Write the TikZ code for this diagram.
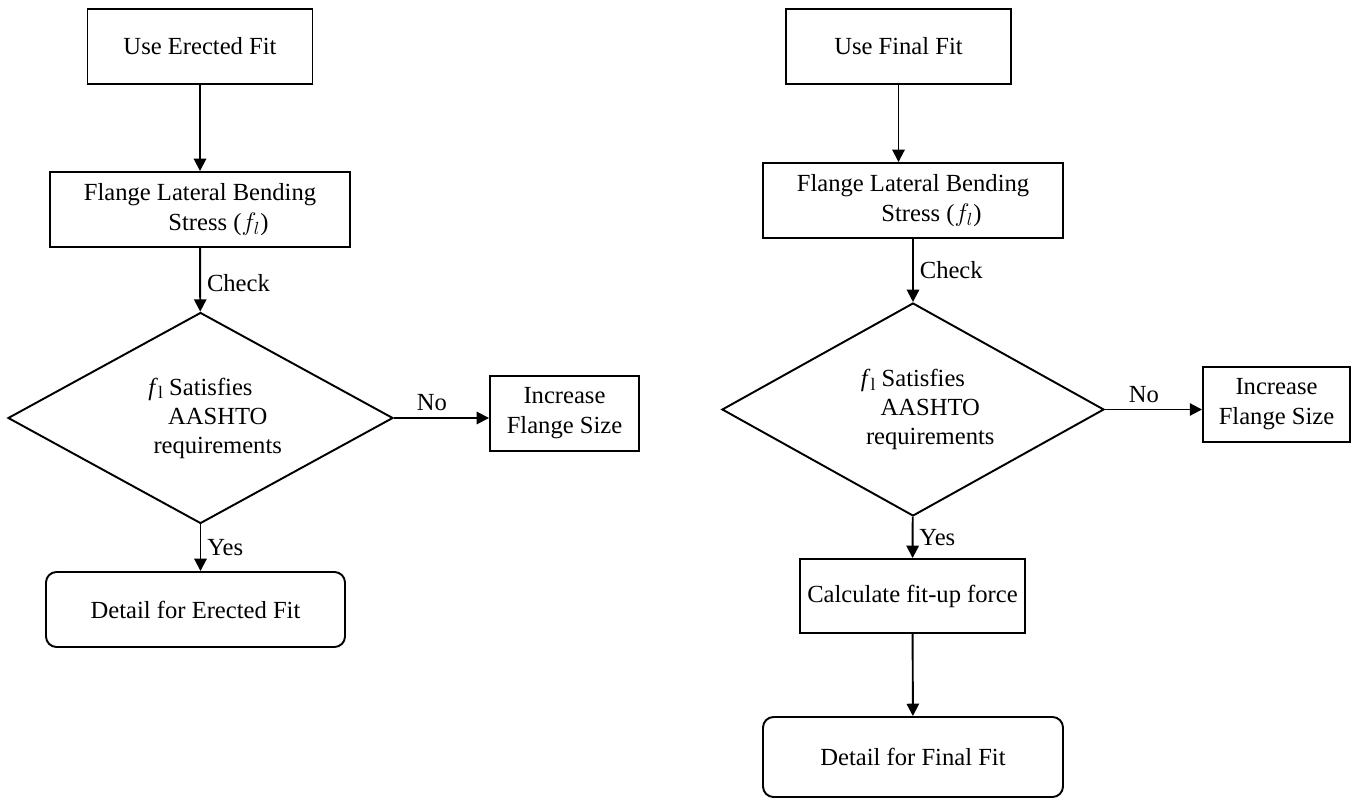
\documentclass[tikz,border=0pt]{standalone}
\usepackage{fontspec}
\setmainfont{Liberation Serif}
\usetikzlibrary{arrows.meta,positioning,shapes.geometric}
\newcommand{\flsub}{\textit{f}\raisebox{-0.35ex}{\fontsize{10}{10}\selectfont l}}
\begin{document}
\begin{tikzpicture}[
  fitbox/.style={draw,line width=1.1pt,minimum width=4.5cm,minimum height=1.5cm,
    align=center,font=\fontsize{14}{17}\selectfont,inner sep=2pt},
  fitdec/.style={draw,diamond,line width=1.1pt,aspect=1.83,minimum width=7.7cm,
    minimum height=4.22cm,align=center,font=\fontsize{14}{16.5}\selectfont,inner sep=1pt},
  fitend/.style={fitbox,rounded corners=6pt,minimum width=6cm},
  fitarr/.style={line width=1.1pt,-{Triangle[length=7pt,width=7pt]}},
  fitlbl/.style={font=\fontsize{14}{17}\selectfont}
]
  \useasboundingbox (0,0) rectangle (27.06,-16.12);
  % Left column
  \node[fitbox] (erect) at (4.0,-0.93) {Use Erected Fit};
  \node[fitbox,minimum width=6cm] (flangeL) at (4.0,-4.19)
    {Flange Lateral Bending\\\hspace*{1.5em}Stress ($f_l$)};
  \node[fitdec] (checkL) at (4.01,-8.36)
    {\flsub{} Satisfies\\\hspace*{1.4em}AASHTO\\\hspace*{1.4em}requirements};
  \node[fitbox,minimum width=2.98cm] (incL) at (11.29,-8.27) {Increase\\Flange Size};
  \node[fitend,minimum width=5.98cm] (detailL) at (3.91,-12.19) {Detail for Erected Fit};

  \draw[fitarr] (erect) -- (erect.south |- flangeL.north);
  \draw[fitarr] (flangeL) -- node[fitlbl,right,pos=0.55] {Check} (checkL);
  \draw[fitarr] (checkL.east) -- node[fitlbl,above,pos=0.4] {No} (checkL.east -| incL.west);
  \draw[fitarr] (checkL.south) -- node[fitlbl,right] {Yes} (checkL.south |- detailL.north);

  % Right column
  \node[fitbox] (final) at (17.97,-0.93) {Use Final Fit};
  \node[fitbox,minimum width=6cm] (flangeR) at (18.26,-4.01)
    {Flange Lateral Bending\\\hspace*{1.5em}Stress ($f_l$)};
  \node[fitdec,minimum width=7.64cm,minimum height=4.26cm] (checkR) at (18.26,-8.19)
    {\flsub{} Satisfies\\\hspace*{1.4em}AASHTO\\\hspace*{1.4em}requirements};
  \node[fitbox,minimum width=2.94cm] (incR) at (25.53,-8.09) {Increase\\Flange Size};
  \node[fitbox,minimum height=1.48cm] (calc) at (18.25,-11.92) {Calculate fit-up force};
  \node[fitend,minimum height=1.6cm] (detailR) at (18.26,-15.14) {Detail for Final Fit};

  \draw[fitarr] (final) -- (final.south |- flangeR.north);
  \draw[fitarr] (flangeR) -- node[fitlbl,right] {Check} (checkR);
  \draw[fitarr] (checkR.east) -- node[fitlbl,above,pos=0.4] {No} (checkR.east -| incR.west);
  \draw[fitarr] (checkR) -- node[fitlbl,right] {Yes} (calc);
  \draw[fitarr] (calc) -- (detailR);
\end{tikzpicture}
\end{document}
